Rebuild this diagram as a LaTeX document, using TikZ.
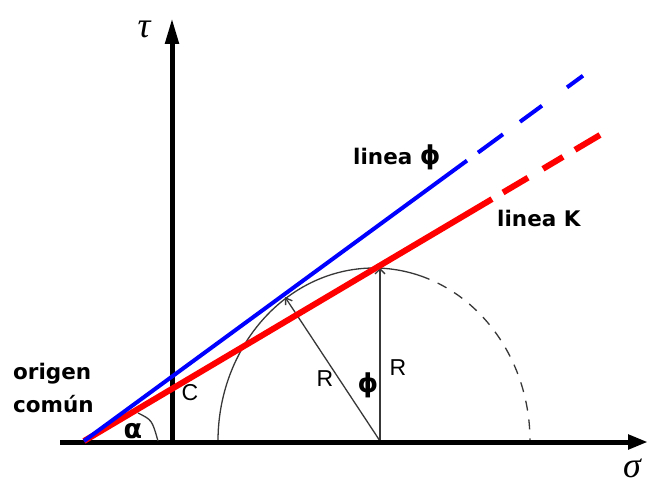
\documentclass[tikz,border=0pt]{standalone}
\usepackage{fontspec}
\usetikzlibrary{arrows.meta,calc}
\newfontfamily\dvs{DejaVu Sans}
\newfontfamily\lib{Liberation Sans}
\newfontfamily\libser{Liberation Serif}
\begin{document}
\begin{tikzpicture}[x=1pt,y=-1pt,
  axis/.style={line width=5pt},
  bline/.style={draw={rgb,255:red,0;green,0;blue,255}, line width=4pt},
  rline/.style={draw={rgb,255:red,255;green,0;blue,0}, line width=6pt},
  thinl/.style={draw=black!78, line width=1.3pt},
  lbl/.style={font=\dvs\bfseries\fontsize{21.5}{24}\selectfont, inner sep=0pt},
  rlbl/.style={font=\lib\fontsize{23}{26}\selectfont, inner sep=0pt},
  glbl/.style={font=\libser\itshape\fontsize{36}{38}\selectfont, inner sep=0pt}]
\useasboundingbox[fill=white] (0,0) rectangle (649,484);
% coordinates
\coordinate (O) at (84,441);
\coordinate (XA) at (60,442);
\coordinate (XB) at (648,442);
\coordinate (YA) at (172,444);
\coordinate (YB) at (172,18);
\coordinate (M) at (380,441);
\coordinate (T) at (285,297);
\coordinate (P) at (380,268);
\coordinate (A0) at (218,441);
\coordinate (Q1) at (138,413);
\coordinate (Q2) at (158,441);
% blue line points
\coordinate (B0) at (467,160.6);
\coordinate (B1) at (478,152.6);
\coordinate (B2) at (503,134.3);
\coordinate (B3) at (520,121.8);
\coordinate (B4) at (542,105.7);
\coordinate (B5) at (567,87.4);
\coordinate (B6) at (583,75.7);
% red line points
\coordinate (R0) at (492,199.1);
\coordinate (R1) at (503,192.5);
\coordinate (R2) at (528,177.7);
\coordinate (R3) at (543,168.8);
\coordinate (R4) at (563,156.9);
\coordinate (R5) at (575,149.8);
\coordinate (R6) at (600,135.0);
% Mohr circle (slightly elliptic as in the reference)
\draw[thinl] (A0) arc[start angle=180,end angle=72.8,x radius=156pt,y radius=173pt] coordinate (S);
\draw[thinl,dash pattern=on 10pt off 9pt] (S) arc[start angle=72.8,end angle=0,x radius=156pt,y radius=173pt];
% radii
\draw[thinl,-{Straight Barb[length=6pt,width=8pt]}] (M) -- (T);
\draw[thinl,-{Straight Barb[length=5pt,width=10pt]}] (M) -- (P);
% axes
\draw[axis,-{Triangle[length=20pt,width=14pt]}] (XA) -- (XB);
\draw[axis,-{Triangle[length=26pt,width=13pt]}] (YA) -- (YB);
% alpha arc
\draw[thinl] (Q1) .. controls (152,420) .. (Q2);
% red line K
\draw[rline] (O) -- (R0);
\draw[rline] (R1) -- (R2);
\draw[rline] (R3) -- (R4);
\draw[rline] (R5) -- (R6);
% blue line phi
\draw[bline] (O) -- (B0);
\draw[bline] (B1) -- (B2);
\draw[bline] (B3) -- (B4);
\draw[bline] (B5) -- (B6);
% labels
\node[lbl, anchor=base west] (o1) at (13,380) {origen};
\node[lbl, anchor=base west] (o2) at (13,413) {común};
\node[lbl, anchor=base west] (lp) at (353,165) {linea \fontsize{26}{28}\selectfont ϕ};
\node[lbl, anchor=base west] (lk) at (497,227) {linea K};
\node[rlbl] (r1) at (325,379) {R};
\node[rlbl] (r2) at (398,368) {R};
\node[lbl, font=\dvs\bfseries\fontsize{26}{28}\selectfont] (ph) at (368,385) {ϕ};
\node[rlbl] (c) at (190,393) {C};
\node[lbl, font=\dvs\bfseries\fontsize{27}{28}\selectfont] (al) at (133,431) {α};
\node[glbl] (tau) at (144,29) {τ};
\node[glbl] (sig) at (632,468) {σ};
\end{tikzpicture}
\end{document}
